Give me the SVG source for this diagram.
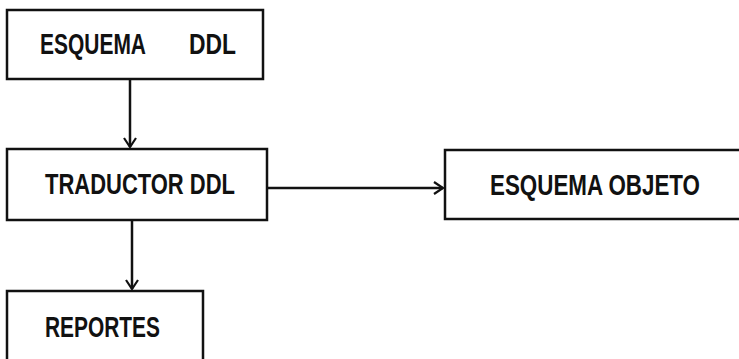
<svg xmlns="http://www.w3.org/2000/svg" width="739" height="359" viewBox="0 0 739 359">
<style>
.box{fill:none;stroke:#111;stroke-width:2.5}
.t{font-family:"Liberation Sans",Arial,sans-serif;font-size:29px;fill:#111;font-weight:bold}
.c{fill:none;stroke:#111;stroke-width:2.5}
</style>
<defs>
<marker id="ah" markerWidth="14" markerHeight="14" refX="11" refY="7" orient="auto" markerUnits="userSpaceOnUse">
<path d="M2,1 L11,7 L2,13" fill="none" stroke="#111" stroke-width="2.2"/>
</marker>
</defs>
<rect width="739" height="359" fill="#fff"/>
<g id="esquema-ddl">
<rect class="box" x="7" y="10" width="256" height="69"/>
<text class="t" x="40" y="54" textLength="106" lengthAdjust="spacingAndGlyphs">ESQUEMA</text>
<text class="t" x="189" y="54" textLength="47" lengthAdjust="spacingAndGlyphs">DDL</text>
</g>
<g id="traductor-ddl">
<rect class="box" x="7" y="149" width="260" height="71"/>
<text class="t" x="45" y="194" textLength="190" lengthAdjust="spacingAndGlyphs">TRADUCTOR DDL</text>
</g>
<g id="esquema-objeto">
<path class="box" d="M741,150 L445,150 L445,219 L741,219"/>
<text class="t" x="490" y="195" textLength="210" lengthAdjust="spacingAndGlyphs">ESQUEMA OBJETO</text>
</g>
<g id="reportes">
<path class="box" d="M7,362 L7,291 L203,291 L203,362"/>
<text class="t" x="45" y="337" textLength="115" lengthAdjust="spacingAndGlyphs">REPORTES</text>
</g>
<g id="connectors">
<path class="c" d="M130,79 L130,147" marker-end="url(#ah)"/>
<path class="c" d="M132,220 L132,289" marker-end="url(#ah)"/>
<path class="c" d="M267,188 L443,188" marker-end="url(#ah)"/>
</g>
</svg>
